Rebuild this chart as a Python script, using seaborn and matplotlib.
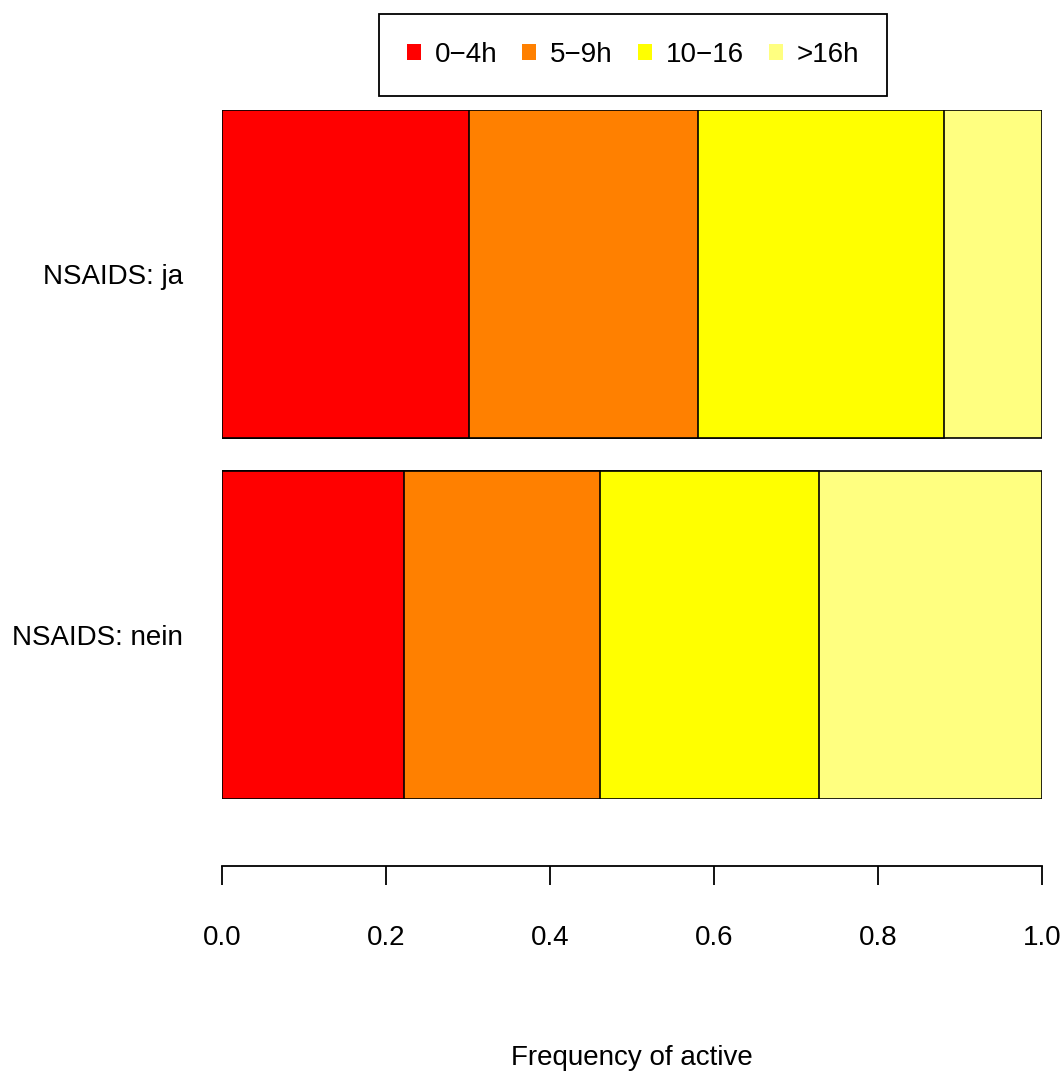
import pandas as pd
import matplotlib.pyplot as plt
import seaborn as sns
import matplotlib as mpl
from matplotlib.patches import Patch

sns.set_style("white")
mpl.rcParams['font.family'] = ['Liberation Sans', 'DejaVu Sans']
mpl.rcParams['text.color'] = 'black'
mpl.rcParams['axes.labelcolor'] = 'black'
mpl.rcParams['xtick.color'] = 'black'
mpl.rcParams['ytick.color'] = 'black'

# data: share of each activity class per NSAIDS group
groups = ['NSAIDS: ja', 'NSAIDS: nein']
classes = ['0\u22124h', '5\u22129h', '10\u221216', '>16h']
share_ja = [0.301, 0.279, 0.300, 0.120]
share_nein = [0.222, 0.239, 0.267, 0.272]
colors = ['#FF0000', '#FF8000', '#FFFF00', '#FFFF80']

rows = []
for g, vals in zip(groups, [share_ja, share_nein]):
    cum = 0
    for c, v in zip(classes, vals):
        cum += v
        rows.append({'group': g, 'klasse': c, 'cum': cum})
df = pd.DataFrame(rows)

fig = plt.figure(figsize=(10.64, 10.76), dpi=100)
ax = fig.add_axes([222 / 1064, 1 - 799 / 1076, 820 / 1064, 689 / 1076])

# stacked bars: draw the cumulative totals from the outside in
for c, col in reversed(list(zip(classes, colors))):
    sub = df[df['klasse'] == c]
    sns.barplot(data=sub, x='cum', y='group', order=groups, color=col,
                edgecolor='black', linewidth=1.2, width=0.907, ax=ax,
                saturation=1)

fs = 20
ax.set_xlim(0, 1)
ax.set_ylim(1.4535, -0.4535)
for s in ['top', 'right', 'left']:
    ax.spines[s].set_visible(False)
ax.spines['bottom'].set_position(('outward', 48))
ax.spines['bottom'].set_bounds(0, 1)
ax.spines['bottom'].set_linewidth(1.3)
ax.spines['bottom'].set_color('black')
ax.set_xticks([0, 0.2, 0.4, 0.6, 0.8, 1.0])
ax.set_xticklabels(['0.0', '0.2', '0.4', '0.6', '0.8', '1.0'])
ax.tick_params(axis='x', direction='out', length=13.7, width=1.3,
               labelsize=fs, pad=29, bottom=True)
ax.tick_params(axis='y', length=0, labelsize=fs, pad=28)
ax.set_ylabel('')
ax.set_xlabel('Frequency of active', fontsize=fs, labelpad=68)

handles = [Patch(facecolor=c, edgecolor='none') for c in colors]
leg = fig.legend(handles, classes, loc='center', ncol=4,
                 bbox_to_anchor=(633 / 1064, 1 - 55 / 1076), fontsize=fs,
                 frameon=True, fancybox=False, edgecolor='black',
                 framealpha=1, handlelength=0.5, handleheight=0.5,
                 handletextpad=0.5, columnspacing=0.9, borderpad=1.0)
leg.get_frame().set_linewidth(1.3)

plt.savefig('out.png', dpi=100)
